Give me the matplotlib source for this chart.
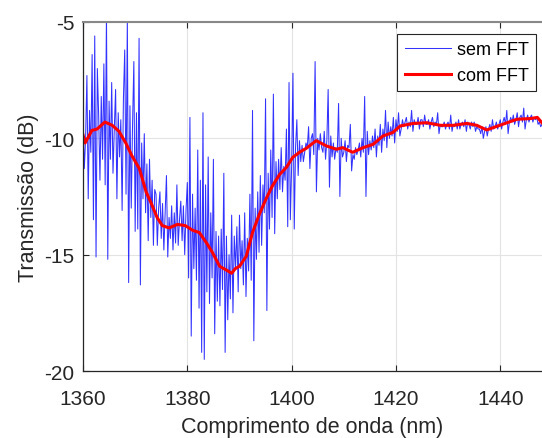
import numpy as np
import matplotlib.pyplot as plt

plt.rcParams['font.family'] = ['Liberation Sans', 'DejaVu Sans']
plt.rcParams['axes.unicode_minus'] = False

# espectro sem FFT (passo de 0.25 nm, a partir de 1360 nm)
x_sem_inicio = 1360.0
x_sem_passo = 0.25
y_sem = [
    -9.2, -11.3, -10.0, -7.3,
    -12.6, -8.8, -10.6, -6.4,
    -13.5, -5.6, -15.1, -7.0,
    -9.0, -11.8, -8.2, -10.9,
    -6.8, -12.0, -4.6, -15.2,
    -8.4, -10.9, -7.6, -11.5,
    -9.6, -7.9, -12.6, -8.9,
    -10.8, -9.2, -13.1, -8.3,
    -6.2, -12.4, -4.8, -16.2,
    -8.6, -13.0, -9.4, -6.7,
    -14.0, -8.9, -13.9, -5.7,
    -16.3, -10.2, -12.6, -9.8,
    -13.2, -11.1, -14.4, -10.9,
    -13.4, -11.8, -14.6, -12.2,
    -12.4, -14.6, -13.0, -12.3,
    -14.3, -12.8, -14.8, -13.2,
    -11.6, -15.1, -13.4, -14.3,
    -12.9, -14.8, -13.2, -14.5,
    -12.0, -14.6, -13.5, -12.7,
    -14.4, -12.9, -15.0, -13.1,
    -11.9, -16.0, -9.1, -18.5,
    -12.4, -15.6, -13.0, -16.1,
    -10.5, -17.3, -11.8, -19.2,
    -8.9, -19.5, -12.0, -16.6,
    -10.8, -17.1, -13.2, -16.0,
    -10.9, -18.4, -14.0, -17.0,
    -14.2, -17.2, -13.9, -16.5,
    -11.5, -19.2, -14.2, -17.8,
    -15.0, -16.9, -13.3, -17.5,
    -14.2, -15.6, -13.8, -16.6,
    -13.3, -15.6, -14.4, -16.3,
    -13.2, -16.8, -14.3, -15.7,
    -12.4, -16.1, -8.8, -18.7,
    -13.0, -15.2, -12.3, -14.9,
    -11.6, -14.6, -12.0, -13.2,
    -8.3, -17.4, -11.5, -13.9,
    -10.5, -13.4, -8.1, -14.1,
    -11.0, -12.6, -10.9, -12.2,
    -10.4, -12.3, -11.2, -11.8,
    -9.6, -13.8, -7.6, -13.5,
    -11.2, -7.2, -13.9, -10.4,
    -9.2, -11.6, -10.1, -11.0,
    -10.3, -11.0, -10.6, -10.2,
    -10.4, -9.5, -11.3, -10.0,
    -9.8, -10.7, -6.7, -12.3,
    -10.0, -10.5, -9.8, -10.4,
    -10.6, -9.7, -10.9, -10.1,
    -7.9, -12.1, -9.9, -10.8,
    -10.2, -10.9, -10.4, -10.6,
    -8.5, -12.5, -10.0, -10.8,
    -10.6, -10.1, -11.0, -10.3,
    -10.4, -9.4, -11.4, -10.7,
    -10.9, -10.4, -10.7, -10.5,
    -10.2, -10.8, -10.0, -10.6,
    -8.2, -12.5, -9.7, -10.7,
    -10.1, -10.5, -9.9, -10.4,
    -9.6, -10.8, -9.9, -10.3,
    -9.4, -10.6, -9.6, -10.1,
    -8.8, -10.4, -9.3, -10.0,
    -9.5, -9.9, -9.1, -10.2,
    -9.2, -9.7, -8.9, -9.9,
    -9.6, -9.2, -9.5, -9.3,
    -9.1, -9.6, -9.3, -9.5,
    -8.8, -9.7, -9.2, -9.4,
    -9.4, -9.1, -9.6, -9.2,
    -9.2, -9.5, -9.0, -9.4,
    -9.4, -9.2, -9.6, -9.3,
    -9.1, -9.5, -9.3, -9.4,
    -8.9, -9.8, -9.4, -9.5,
    -9.5, -9.3, -9.6, -9.4,
    -9.3, -9.6, -9.0, -9.7,
    -9.4, -9.5, -9.3, -9.6,
    -9.2, -9.6, -9.4, -9.3,
    -9.5, -9.2, -9.7, -9.3,
    -9.4, -9.6, -9.3, -9.5,
    -9.3, -9.7, -9.5, -9.6,
    -9.6, -9.8, -9.5, -10.0,
    -9.7, -9.5, -9.9, -9.6,
    -9.4, -9.7, -9.2, -9.6,
    -9.5, -9.3, -9.6, -9.4,
    -9.2, -9.6, -9.3, -9.1,
    -9.4, -8.8, -9.8, -9.3,
    -9.1, -9.3, -9.0, -9.4,
    -9.2, -8.9, -9.5, -9.1,
    -9.0, -9.3, -8.7, -9.6,
    -9.2, -9.0, -9.3, -9.1,
    -9.0, -9.3, -9.1, -9.2,
    -9.1, -9.4, -9.3, -9.5,
    -9.4,
]
x_sem = x_sem_inicio + x_sem_passo * np.arange(len(y_sem))

# espectro com FFT (filtrado)
x_com = [1360.0, 1360.4, 1361.7, 1362.7, 1364.2, 1365.6, 1366.9, 1368.2, 1369.4,
         1370.8, 1372.1, 1373.1, 1374.2, 1375.2, 1376.5, 1378.1, 1379.6, 1381.0,
         1382.3, 1383.7, 1384.8, 1386.2, 1387.4, 1388.5, 1389.2, 1390.0, 1391.3,
         1392.5, 1393.8, 1395.1, 1396.3, 1397.7, 1399.0, 1400.2, 1401.5, 1402.8,
         1404.7, 1406.7, 1408.6, 1409.8, 1411.7, 1413.7, 1415.6, 1417.5, 1419.4,
         1420.8, 1423.3, 1425.9, 1428.5, 1431.0, 1433.6, 1435.5, 1437.4, 1439.4,
         1441.3, 1443.2, 1445.8, 1447.1, 1448.0]
y_com = [-9.85, -10.2, -9.66, -9.6, -9.3, -9.44, -9.7, -10.2, -10.76,
         -11.3, -12.3, -12.8, -13.4, -13.75, -13.85, -13.7, -13.75, -13.95,
         -14.05, -14.5, -14.9, -15.5, -15.65, -15.8, -15.6, -15.5, -15.07,
         -14.05, -13.27, -12.6, -12.05, -11.55, -11.25, -10.82, -10.6, -10.43,
         -10.1, -10.33, -10.47, -10.4, -10.6, -10.4, -10.26, -9.9, -9.75,
         -9.47, -9.36, -9.33, -9.44, -9.44, -9.36, -9.44, -9.64, -9.48,
         -9.33, -9.18, -9.15, -9.1, -9.33]

xticks = [1360, 1380, 1400, 1420, 1440]
yticks = [-20, -15, -10, -5]

fig = plt.figure(figsize=(5.42, 4.39), dpi=100)
ax = fig.add_axes([83 / 542, 1 - 372 / 439, 1 - 83 / 542, (372 - 23) / 439])

ax.plot(x_sem, y_sem, color='#0000ff', lw=0.75, alpha=0.8, label='sem FFT')
ax.plot(x_com, y_com, color='#ff0000', lw=2.2, label='com FFT')

ax.set_xlim(1360, 1448)
ax.set_ylim(-20, -5)
ax.set_xticks(xticks)
ax.set_yticks(yticks)
ax.grid(True, color='#e3e3e3', lw=0.8)
ax.set_axisbelow(True)
ax.tick_params(direction='in', labelsize=15, top=True, length=4,
               colors='#262626')
ax.tick_params(axis='x', pad=13)
ax.tick_params(axis='y', pad=6)
ax.spines['right'].set_visible(False)
ax.spines['top'].set_color('#888888')
ax.spines['top'].set_linewidth(1.5)
for s in ['left', 'bottom']:
    ax.spines[s].set_color('#262626')
    ax.spines[s].set_linewidth(0.9)

ax.set_xlabel('Comprimento de onda (nm)', fontsize=15.5, color='#262626',
              labelpad=6)
ax.set_ylabel('Transmissão (dB)', fontsize=15.5, color='#262626', labelpad=4)

leg = ax.legend(loc='upper right', bbox_to_anchor=(1 - 6 / 459, 1 - 12 / 349),
                borderaxespad=0, fontsize=13, fancybox=False, framealpha=1,
                handlelength=2.6, handletextpad=0.3, labelspacing=0.5,
                borderpad=0.4)
leg.get_frame().set_edgecolor('#262626')
leg.get_frame().set_linewidth(0.8)

plt.savefig('out.png', dpi=100)
